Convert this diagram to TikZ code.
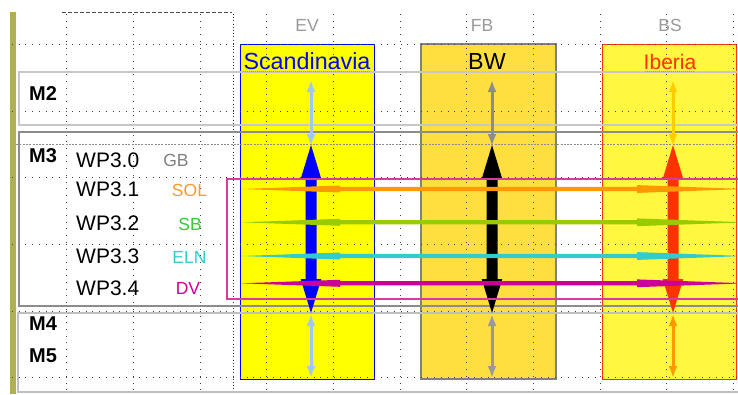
\documentclass[tikz,border=0pt]{standalone}
\usepackage{fontspec}
\setmainfont{Liberation Sans}
\usetikzlibrary{arrows.meta}
\definecolor{olivebar}{RGB}{176,176,80}
\definecolor{colA}{RGB}{255,255,0}
\definecolor{colB}{RGB}{255,223,64}
\definecolor{colC}{RGB}{255,247,64}
\definecolor{redC}{RGB}{255,51,0}
\definecolor{lblue}{RGB}{160,200,240}
\definecolor{gold}{RGB}{255,204,0}
\definecolor{orng}{RGB}{255,153,0}
\definecolor{lgrn}{RGB}{153,204,0}
\definecolor{cyn}{RGB}{51,204,204}
\definecolor{mag}{RGB}{204,0,153}
\definecolor{magbox}{RGB}{214,60,160}
\definecolor{solc}{RGB}{255,153,51}
\definecolor{sbc}{RGB}{51,204,51}
\tikzset{
  griddot/.style={black!75,line width=0.9pt,dash pattern=on 0.9pt off 5.8pt},
  colbox/.style={line width=1pt},
  hdr/.style={inner sep=0pt,text=black!40,font=\fontsize{17.5}{20}\selectfont},
  mlab/.style={inner sep=0pt,font=\fontsize{20}{24}\selectfont\bfseries},
  wplab/.style={inner sep=0pt,anchor=west,font=\fontsize{21}{24}\selectfont},
  sublab/.style={inner sep=0pt,font=\fontsize{17.5}{20}\selectfont},
  ttl/.style={inner sep=0pt},
  smallarr/.style={line width=3pt,arrows={Latex[length=12pt,width=9pt]-Latex[length=12pt,width=9pt]}},
}
\newcommand{\bigarrow}[2]{%
  \fill[#2] (#1,145) -- (#1+10,178) -- (#1+5.5,178) -- (#1+5.5,279) -- (#1+10.3,279) -- (#1,313) -- (#1-10.3,279) -- (#1-5.5,279) -- (#1-5.5,178) -- (#1-10,178) -- cycle;}
\newcommand{\taper}[2]{%
  \fill[#2] (241,#1) -- (340,#1-3.5) -- (340,#1-2.1) -- (637,#1-2.1) -- (637,#1-3.9) -- (736,#1-0.3) -- (736,#1+0.3) -- (637,#1+3.9) -- (637,#1+2.1) -- (340,#1+2.1) -- (340,#1+3.5) -- cycle;}
\begin{document}
\begin{tikzpicture}[x=1pt,y=-1pt]
\useasboundingbox (0,0) rectangle (738,394);
\clip (0,0) rectangle (738,394);
\fill[white] (0,0) rectangle (738,394);
% olive bar
\fill[olivebar] (10,12) rectangle (16,394);
% columns
\filldraw[fill=colA,draw=blue,colbox] (240,44) rectangle (374.5,379);
\filldraw[fill=colB,draw=black!50,line width=1.5pt] (421,44) rectangle (556,379);
\filldraw[fill=colC,draw=redC,colbox] (602,44) rectangle (736,379);
% grid
\foreach \gx in {66.7,133.3,200,266.7,333.3,400,466.7,533.3,600,666.7,733.3}
  \draw[griddot] (\gx,14) -- (\gx,394);
\foreach \gy in {44.4,111.1,177.8,244.4,311.1,377.8}
  \draw[griddot] (12,\gy) -- (738,\gy);
\draw[black!80,line width=0.8pt,dash pattern=on 1pt off 2.2pt] (233.3,14) -- (233.3,394);
\draw[black!45,line width=0.8pt,dash pattern=on 2pt off 1.3pt] (16,144.7) -- (738,144.7);
\draw[black!70,line width=0.8pt,dash pattern=on 4pt off 2pt] (62,12.5) -- (232,12.5);
% M boxes
\draw[black!22,line width=1.6pt] (19,72) rectangle (760,125);
\draw[black!45,line width=2pt] (19,132) rectangle (760,306);
\draw[black!25,line width=1.3pt] (18,313) rectangle (760,392);
% small arrows
\draw[smallarr,lblue] (311,80) -- (311,146);
\draw[smallarr,lblue] (311,314) -- (311,378);
\draw[smallarr,black!45] (492,80) -- (492,146);
\draw[smallarr,black!40] (492,314) -- (492,378);
\draw[smallarr,gold] (673,80) -- (673,146);
\draw[smallarr,orng] (673,314) -- (673,378);
% big arrows
\bigarrow{311}{blue}
\bigarrow{492}{black}
\bigarrow{673}{redC}
% magenta frame
\draw[magbox,line width=2pt] (227,179) rectangle (760,299);
% tapered lines
\taper{189}{orng}
\taper{222.3}{lgrn}
\taper{256}{cyn}
\taper{283.3}{mag}
% headers
\node[hdr] (ev) at (307,25.5) {EV};
\node[hdr] (fb) at (482,25.5) {FB};
\node[hdr] (bs) at (670,25.5) {BS};
\node[ttl,text=blue,font=\fontsize{23.3}{27}\selectfont] (scan) at (307,61.5) {Scandinavia};
\node[ttl,text=black,font=\fontsize{23.3}{27}\selectfont] (bw) at (487,61.5) {BW};
\node[ttl,text=redC,font=\fontsize{21}{25}\selectfont] (ib) at (670,61.5) {Iberia};
\draw[red!55,line width=0.7pt,dash pattern=on 1pt off 1pt] (243,71) -- (370,71);
\draw[red!55,line width=0.7pt,dash pattern=on 1pt off 1pt] (645,71) -- (695,71);
% M labels
\node[mlab] (m2) at (43,94) {M2};
\node[mlab] (m3) at (43,155.5) {M3};
\node[mlab] (m4) at (43,324) {M4};
\node[mlab] (m5) at (43,356) {M5};
% WP labels
\node[wplab] (w0) at (76,160.5) {WP3.0};
\node[wplab] (w1) at (76,189.7) {WP3.1};
\node[wplab] (w2) at (76,223) {WP3.2};
\node[wplab] (w3) at (76,256) {WP3.3};
\node[wplab] (w4) at (76,288.7) {WP3.4};
\node[sublab,text=black!50] (gb) at (176,160.5) {GB};
\node[sublab,text=solc] (sol) at (189.5,190) {SOL};
\node[sublab,text=sbc] (sb) at (190,224) {SB};
\node[sublab,text=cyn] (eln) at (189.5,257) {ELN};
\node[sublab,text=mag] (dv) at (188,288.7) {DV};
\end{tikzpicture}
\end{document}
